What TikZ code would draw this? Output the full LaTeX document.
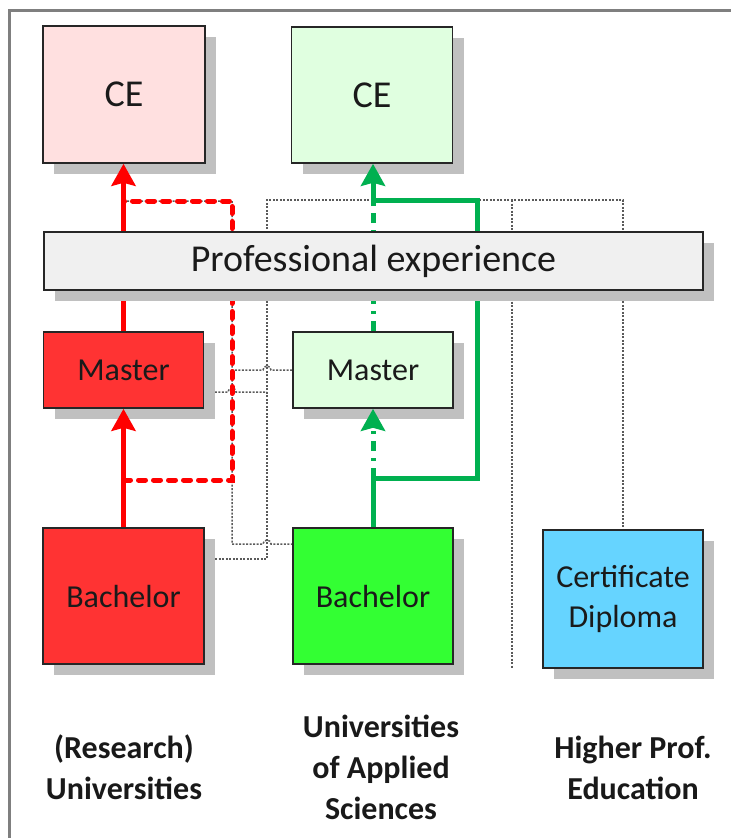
\documentclass[tikz,border=0pt]{standalone}
\usepackage{fontspec}
\setmainfont{Carlito}
\usetikzlibrary{arrows.meta,shadows,calc}
\pgfdeclarelayer{background}
\pgfsetlayers{background,main}

\definecolor{framegray}{HTML}{7F7F7F}
\definecolor{boxline}{HTML}{262626}
\definecolor{boxtext}{HTML}{1A1A1A}
\definecolor{pinkfill}{HTML}{FFE0E0}
\definecolor{palegreen}{HTML}{E0FFE0}
\definecolor{redfill}{HTML}{FF3333}
\definecolor{greenfill}{HTML}{33FF33}
\definecolor{bluefill}{HTML}{66D4FF}
\definecolor{profgray}{HTML}{F0F0F0}
\definecolor{shadowgray}{HTML}{C0C0C0}
\definecolor{redstroke}{HTML}{FF0000}
\definecolor{greenstroke}{HTML}{00B050}
\definecolor{dotgray}{HTML}{5A5A5A}

\begin{document}
\begin{tikzpicture}[x=1pt,y=1pt,
  box/.style={draw=boxline, line width=1.6pt, inner sep=0pt, text=boxtext,
    font=\fontsize{32}{40}\selectfont, align=center,
    general shadow={fill=shadowgray, shadow xshift=11pt, shadow yshift=-11pt}},
  colhead/.style={font=\bfseries\fontsize{32}{41}\selectfont, align=center, text=black!90},
  tip/.style={-{Stealth[length=22pt,width=24pt,inset=3pt]}},
  redline/.style={draw=redstroke, line width=5pt},
  reddash/.style={draw=redstroke, line width=5pt, line cap=round, dash pattern=on 7pt off 8pt},
  greenline/.style={draw=greenstroke, line width=5pt},
  greendd/.style={draw=greenstroke, line width=5pt, dash pattern=on 10pt off 7pt on 3pt off 7pt},
  graydot/.style={draw=dotgray, line width=1.5pt, dash pattern=on 2pt off 1.5pt},
  frameline/.style={draw=framegray, line width=3pt}]

\useasboundingbox (0,0) rectangle (731,-838);

% outer frame
\draw[frameline] (9,-838) -- (9,-10) -- (731,-10);

% qualification boxes
\node[box, fill=pinkfill,  minimum width=162pt, minimum height=137pt,
      font=\fontsize{38}{44}\selectfont] (ce1)  at (124,-94.5) {CE};
\node[box, fill=palegreen, minimum width=161pt, minimum height=136pt,
      font=\fontsize{38}{44}\selectfont] (ce2)  at (372,-95)   {CE};
\node[box, fill=redfill,   minimum width=160pt, minimum height=76pt]  (mr)   at (123.5,-370) {Master};
\node[box, fill=palegreen, minimum width=160pt, minimum height=76pt]  (mg)   at (373,-370)  {Master};
\node[box, fill=redfill,   minimum width=161pt, minimum height=136pt] (br)   at (123.5,-596) {Bachelor};
\node[box, fill=greenfill, minimum width=160pt, minimum height=136pt] (bg)   at (373,-596)  {Bachelor};
\node[box, fill=bluefill,  minimum width=160pt, minimum height=138pt] (cert) at (623,-599)  {Certificate\\Diploma};

% routing points
\coordinate (y201) at (0,-201);
\coordinate (y392) at (0,-392);
\coordinate (y480) at (0,-480);
\coordinate (y544) at (0,-544);
\coordinate (y559) at (0,-559);
\coordinate (ga) at (267,-200);
\coordinate (gb) at (512,-200);
\coordinate (gc) at (623,-200);
\coordinate (gd) at (512,-668);
\coordinate (gs) at (373,-478);
\coordinate (gr1) at (477,-478);
\coordinate (gr2) at (477,-200);
\coordinate (gt) at (373,-200);

% dotted equivalence links, behind everything
\begin{pgfonlayer}{background}
  \draw[graydot] (br.east |- y559) -- (267,-559) -- (ga) -- (gc) -- (cert.north);
  \draw[graydot] (gb) -- (gd);
  \draw[graydot] (mr.east |- y392) -- (228,-392) arc[start angle=180, end angle=0, radius=4] -- (267,-392);
  \draw[graydot] (mg.west) -- (271,-370) arc[start angle=0, end angle=180, radius=4] -- (232,-370);
  \draw[graydot] (br.north |- y201) -- (232,-201) -- (232,-544) -- (263,-544)
                 arc[start angle=180, end angle=0, radius=4] -- (bg.west |- y544);
\end{pgfonlayer}

% research university route
\draw[redline, tip] (br.north) -- (br.north |- mr.south);
\draw[redline, tip] (mr.north) -- (mr.north |- ce1.south);
\draw[reddash] (br.north |- y480) -- (232,-480) -- (232,-201) -- (br.north |- y201);

% applied sciences route
\draw[greenline, tip] (bg.north) -- (gs) -- (gr1) -- (gr2) -- (gt) -- (gt |- ce2.south);
\draw[greendd, tip] (gs) -- (gs |- mg.south);
\draw[greendd] (mg.north) -- (gt);

% professional experience band on top of the routes
\node[box, fill=profgray, minimum width=659pt, minimum height=58pt,
      font=\fontsize{38}{44}\selectfont] (prof) at (373.5,-261) {Professional experience};

% column headings
\node[colhead] (h1) at (124,-767) {(Research)\\Universities};
\node[colhead] (h2) at (381,-767) {Universities\\of Applied\\Sciences};
\node[colhead] (h3) at (633,-768) {Higher Prof.\\Education};
\end{tikzpicture}
\end{document}
